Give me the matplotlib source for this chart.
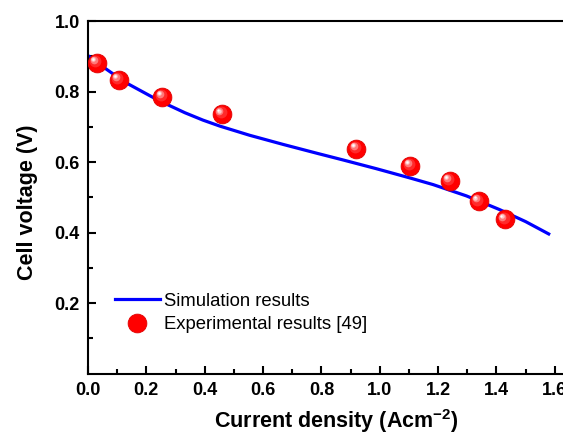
import numpy as np
import matplotlib.pyplot as plt
from matplotlib.transforms import offset_copy

plt.rcParams['font.family'] = ['Liberation Sans', 'DejaVu Sans']
plt.rcParams['mathtext.fontset'] = 'custom'
plt.rcParams['mathtext.rm'] = 'Liberation Sans'
plt.rcParams['mathtext.bf'] = 'Liberation Sans:bold'

# simulation curve
sim_x = [0.005, 0.03, 0.057, 0.10, 0.137, 0.217, 0.275, 0.332, 0.394, 0.452, 0.554,
         0.669, 0.789, 0.874, 0.989, 1.103, 1.183, 1.297, 1.411, 1.50, 1.579]
sim_y = [0.899, 0.883, 0.867, 0.842, 0.822, 0.786, 0.762, 0.740, 0.719, 0.702, 0.676,
         0.650, 0.624, 0.606, 0.581, 0.555, 0.536, 0.504, 0.465, 0.431, 0.396]

# experimental points
exp_x = [0.03, 0.105, 0.255, 0.46, 0.92, 1.105, 1.24, 1.34, 1.43]
exp_y = [0.882, 0.834, 0.786, 0.736, 0.638, 0.590, 0.547, 0.489, 0.437]

fig = plt.figure(figsize=(5.63, 4.34), dpi=100)
# axes run past the right edge: the original is cropped there
ax = fig.add_axes([0.1563, 0.1394, 0.881, 0.812])

ax.plot(sim_x, sim_y, color='#0000ff', lw=2.3, label='Simulation results',
        solid_joinstyle='round', zorder=2)

# shaded "sphere" markers: base circle + lighter layers shifted up-left
ax.plot(exp_x, exp_y, 'o', ms=13.5, color='#ff0000', mec='#e00000', mew=0.6,
        label='Experimental results [49]', zorder=3)
layers = [(8.5, '#ff2a2a', 1.2), (5.5, '#ff7a7a', 2.0), (3.2, '#ffc8c8', 2.6), (1.6, '#ffffff', 2.8)]
for ms, col, off in layers:
    tr = offset_copy(ax.transData, fig=fig, x=-off, y=off, units='points')
    ax.plot(exp_x, exp_y, 'o', ms=ms, color=col, mew=0, transform=tr, zorder=4)

ax.set_xlim(0, 1.7)
ax.set_ylim(0, 1.0)
ax.set_xticks(np.arange(0, 1.61, 0.2))
ax.set_xticks(np.arange(0.1, 1.7, 0.2), minor=True)
ax.set_yticks([0.2, 0.4, 0.6, 0.8, 1.0])
ax.set_yticks([0.1, 0.3, 0.5, 0.7, 0.9], minor=True)
ax.xaxis.set_major_formatter(plt.FormatStrFormatter('%.1f'))
ax.yaxis.set_major_formatter(plt.FormatStrFormatter('%.1f'))
ax.tick_params(which='both', direction='in', width=1.5, labelsize=13, pad=6)
ax.tick_params(which='major', length=6)
ax.tick_params(which='minor', length=3.5)
for lbl in ax.get_xticklabels() + ax.get_yticklabels():
    lbl.set_fontweight('bold')
for s in ax.spines.values():
    s.set_linewidth(1.5)

ax.set_xlabel(r'Current density (Acm$^{\mathbf{-2}}$)', fontsize=15.5, fontweight='bold')
ax.set_ylabel('Cell voltage (V)', fontsize=15.5, fontweight='bold')
ax.xaxis.set_label_coords(0.5, -0.094)
ax.yaxis.set_label_coords(-0.1, 0.485)

ax.legend(loc='lower left', bbox_to_anchor=(0.021, 0.067), frameon=False,
          fontsize=13.3, handlelength=2.43, handletextpad=0.22, labelspacing=0.35)

fig.savefig('out.png', dpi=100)
